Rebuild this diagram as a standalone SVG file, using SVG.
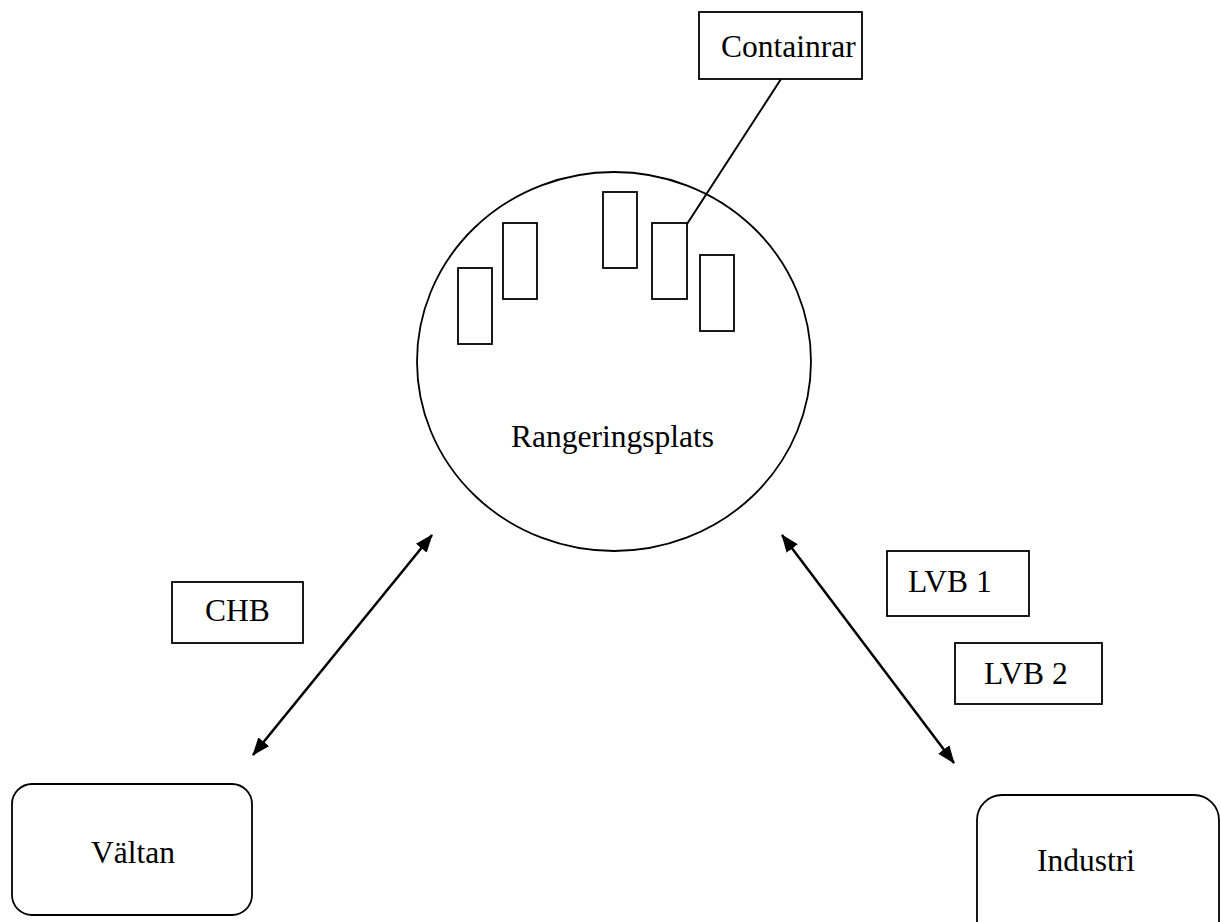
<svg xmlns="http://www.w3.org/2000/svg" width="1221" height="922" viewBox="0 0 1221 922">
<style>
.box{fill:#fff;stroke:#000;stroke-width:1.8}
.lbl{font-family:"Liberation Serif","Times New Roman",serif;font-size:31.5px;fill:#000}
.con{stroke:#000;stroke-width:2;fill:none}
.arr{stroke:#000;stroke-width:2.5;fill:none}
</style>
<defs>
<marker id="ah" markerUnits="userSpaceOnUse" markerWidth="18" markerHeight="14" refX="17" refY="7" orient="auto-start-reverse" viewBox="0 0 18 14">
<path d="M0,0 L18,7 L0,14 z" fill="#000"/>
</marker>
</defs>
<rect width="1221" height="922" fill="#fff"/>
<g id="rangeringsplats">
<ellipse class="box" cx="614" cy="361.5" rx="197" ry="189.5"/>
<rect class="box" x="458" y="268" width="34" height="76"/>
<rect class="box" x="503" y="223" width="34" height="76"/>
<rect class="box" x="603" y="192" width="34" height="76"/>
<rect class="box" x="652" y="223" width="35" height="76"/>
<rect class="box" x="700" y="255" width="34" height="76"/>
<text class="lbl" x="511" y="447">Rangeringsplats</text>
</g>
<g id="containrar">
<rect class="box" x="699" y="12" width="163" height="67"/>
<text class="lbl" x="721" y="57">Containrar</text>
</g>
<g id="chb">
<rect class="box" x="172" y="582" width="131" height="61"/>
<text class="lbl" x="205" y="621">CHB</text>
</g>
<g id="lvb1">
<rect class="box" x="887" y="551" width="142" height="65"/>
<text class="lbl" x="908" y="592">LVB 1</text>
</g>
<g id="lvb2">
<rect class="box" x="955" y="643" width="147" height="61"/>
<text class="lbl" x="984" y="684">LVB 2</text>
</g>
<g id="valtan">
<rect class="box" x="12" y="784" width="240" height="131" rx="20" ry="20"/>
<text class="lbl" x="91" y="863">Vältan</text>
</g>
<g id="industri">
<rect class="box" x="977" y="795" width="242" height="160" rx="25" ry="25"/>
<text class="lbl" x="1037" y="871">Industri</text>
</g>
<g id="connectors">
<line class="con" x1="687" y1="224" x2="781" y2="79"/>
<line class="arr" x1="253" y1="755" x2="432" y2="535" marker-start="url(#ah)" marker-end="url(#ah)"/>
<line class="arr" x1="782" y1="535" x2="954" y2="763" marker-start="url(#ah)" marker-end="url(#ah)"/>
</g>
</svg>
